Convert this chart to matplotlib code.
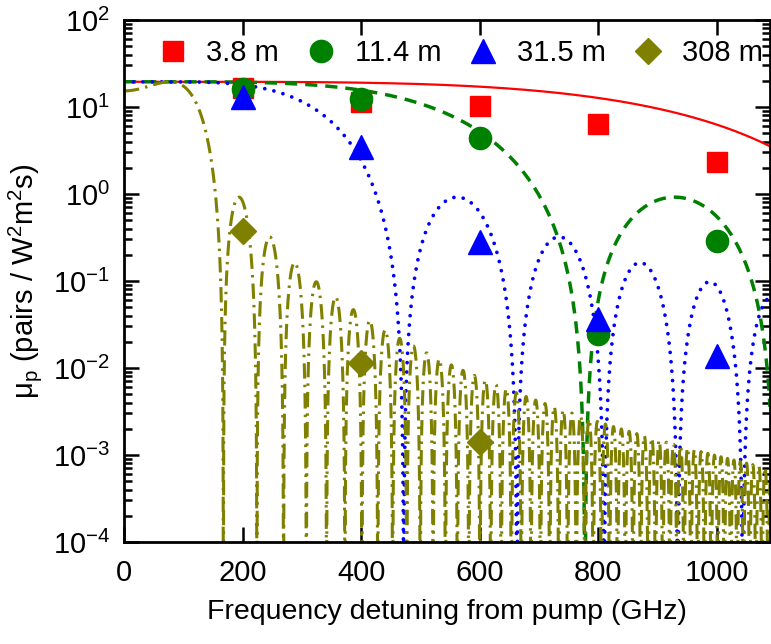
import matplotlib
matplotlib.use("Agg")
import matplotlib.pyplot as plt
import numpy as np
from matplotlib.lines import Line2D

plt.rcParams["font.family"] = ["Liberation Sans", "DejaVu Sans"]
plt.rcParams["mathtext.fontset"] = "custom"
plt.rcParams["mathtext.rm"] = "Liberation Sans"
plt.rcParams["mathtext.it"] = "Liberation Sans:italic"
plt.rcParams["mathtext.default"] = "regular"

# measured pair rates (pairs / W^2 m^2 s) vs detuning (GHz)
FREQ = [200, 400, 600, 800, 1000]
MU_3P8 = [16.5, 11.5, 10.3, 6.4, 2.32]
MU_11P4 = [15.9, 12.5, 4.4, 0.0245, 0.29]
MU_31P5 = [13.0, 3.46, 0.28, 0.0366, 0.0137]
FREQ_308 = [200, 400, 600]
MU_308 = [0.38, 0.0115, 0.0014]

LENGTHS = [3.8, 11.4, 31.5, 308]
LABELS = ["3.8 m", "11.4 m", "31.5 m", "308 m"]
COLORS = ["#ff0000", "#008000", "#0000ff", "#808000"]
Y_TICKS = [1e-4, 1e-3, 1e-2, 1e-1, 1e0, 1e1, 1e2]
X_TICKS = [0, 200, 400, 600, 800, 1000]

# phase-matching model: mu = MU_PEAK * sinc^2((BETA f^2 - KAPPA) L)
MU_PEAK = 19.5
BETA = 4.6e-7    # rad / (m GHz^2)
KAPPA = 2.73e-3  # rad / m
F_MAX = 1090


def theory(f, length):
    phi = (BETA * f ** 2 - KAPPA) * length
    return MU_PEAK * np.sinc(phi / np.pi) ** 2


fig = plt.figure(figsize=(7.71, 6.44), dpi=100)
ax = fig.add_axes([124 / 771, 1 - 542 / 644, (770 - 124) / 771, (542 - 20) / 644])

f = np.linspace(0, F_MAX, 4000)
line_styles = [
    dict(ls="-", lw=1.6),
    dict(ls=(0, (3.5, 2.3)), lw=2.5),
    dict(ls=(0, (0.01, 2.5)), lw=2.7, dash_capstyle="round"),
    dict(ls=(0, (5, 2, 0.8, 2)), lw=2.2),
]
for length, color, style in zip(LENGTHS, COLORS, line_styles):
    ax.plot(f, theory(f, length), color=color, zorder=2, **style)

markers = [("s", 14), ("o", 16), ("^", 17), ("D", 13)]
series = [(FREQ, MU_3P8), (FREQ, MU_11P4), (FREQ, MU_31P5), (FREQ_308, MU_308)]
handles = []
for (x, y), (m, ms), color, label in zip(series, markers, COLORS, LABELS):
    ax.plot(x, y, ls="none", marker=m, ms=ms, color=color, mec=color, zorder=3)
    handles.append(Line2D([], [], ls="none", marker=m, ms=ms, color=color, label=label))

ax.set_yscale("log")
ax.set_xlim(0, F_MAX)
ax.set_ylim(1e-4, 1e2)
ax.set_xticks(X_TICKS)
ax.set_yticks(Y_TICKS)
ax.tick_params(which="both", direction="in", top=True, right=True, width=1.8)
ax.tick_params(which="major", length=11, labelsize=21, pad=12)
ax.tick_params(axis="y", which="major", pad=10)
ax.tick_params(which="minor", length=6)
ax.xaxis.set_minor_locator(matplotlib.ticker.NullLocator())
for sp in ax.spines.values():
    sp.set_linewidth(2)

ax.set_xlabel("Frequency detuning from pump (GHz)", fontsize=20.5, labelpad=9)
ax.set_ylabel("μ$_p$ (pairs / W$^2$m$^2$s)", fontsize=21, labelpad=6)

ax.legend(handles=handles, loc="upper left", bbox_to_anchor=(0.03, 0.985), ncol=4,
          frameon=False, fontsize=21, handletextpad=0.55, columnspacing=0.85,
          borderaxespad=0.0, handlelength=1.2)

fig.savefig("out.png", dpi=100)
